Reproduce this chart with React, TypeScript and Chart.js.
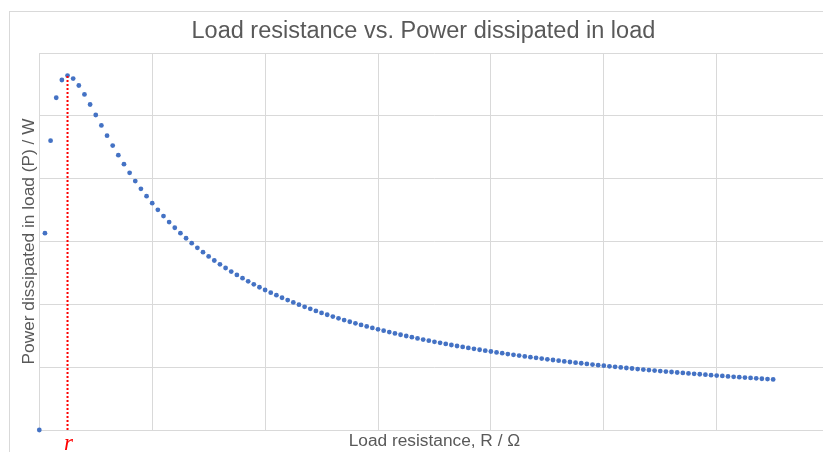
import React, { useEffect, useRef } from "react";
import { Chart, registerables } from "chart.js";

Chart.register(...registerables);

// Load resistance R (Ω)
const resistance: number[] = [
  0, 1, 2, 3, 4, 5, 6, 7, 8, 9, 10, 11, 12, 13, 14, 15, 16, 17, 18, 19, 20,
  21, 22, 23, 24, 25, 26, 27, 28, 29, 30, 31, 32, 33, 34, 35, 36, 37, 38, 39, 40,
  41, 42, 43, 44, 45, 46, 47, 48, 49, 50, 51, 52, 53, 54, 55, 56, 57, 58, 59, 60,
  61, 62, 63, 64, 65, 66, 67, 68, 69, 70, 71, 72, 73, 74, 75, 76, 77, 78, 79, 80,
  81, 82, 83, 84, 85, 86, 87, 88, 89, 90, 91, 92, 93, 94, 95, 96, 97, 98, 99, 100,
  101, 102, 103, 104, 105, 106, 107, 108, 109, 110, 111, 112, 113, 114, 115, 116, 117, 118, 119, 120,
  121, 122, 123, 124, 125, 126, 127, 128, 129, 130,
];

// Power dissipated in load P (W)
const power: number[] = [
  0, 3.133, 4.604, 5.288, 5.57, 5.64, 5.593, 5.483, 5.34, 5.18, 5.013,
  4.847, 4.684, 4.526, 4.374, 4.23, 4.093, 3.962, 3.838, 3.721, 3.61,
  3.504, 3.404, 3.309, 3.219, 3.133, 3.052, 2.974, 2.9, 2.83, 2.762,
  2.698, 2.637, 2.578, 2.522, 2.468, 2.416, 2.366, 2.318, 2.272, 2.228,
  2.186, 2.145, 2.105, 2.067, 2.03, 1.995, 1.961, 1.928, 1.895, 1.864,
  1.834, 1.805, 1.777, 1.75, 1.723, 1.698, 1.673, 1.648, 1.625, 1.602,
  1.58, 1.558, 1.537, 1.516, 1.496, 1.477, 1.458, 1.439, 1.421, 1.404,
  1.387, 1.37, 1.353, 1.337, 1.322, 1.307, 1.292, 1.277, 1.263, 1.249,
  1.235, 1.222, 1.209, 1.196, 1.184, 1.171, 1.159, 1.148, 1.136, 1.125,
  1.114, 1.103, 1.092, 1.082, 1.072, 1.062, 1.052, 1.042, 1.032, 1.023,
  1.014, 1.005, 0.996, 0.987, 0.979, 0.97, 0.962, 0.954, 0.946, 0.938,
  0.93, 0.923, 0.915, 0.908, 0.901, 0.894, 0.887, 0.88, 0.873, 0.866,
  0.86, 0.853, 0.847, 0.841, 0.834, 0.828, 0.822, 0.816, 0.81, 0.805,
];

// Internal resistance marker r and its maximum power
const internalR: number[] = [5, 5];
const internalP: number[] = [0, 5.64];
const markerLabel = "r";

const xRange: number[] = [0, 140, 20];
const yRange: number[] = [0, 6, 1];

const titleText = "Load resistance vs. Power dissipated in load";
const xTitle = "Load resistance, R / Ω";
const yTitle = "Power dissipated in load (P) / W";

const GRAY_TEXT = "#595959";
const GRID = "#d9d9d9";
const FONT = "'Liberation Sans', Arial, sans-serif";

export default function App() {
  const ref = useRef<HTMLCanvasElement | null>(null);

  useEffect(() => {
    const canvas = ref.current;
    if (!canvas) return;

    const rLabelPlugin = {
      id: "rLabel",
      afterDraw(chart: any) {
        const ctx = chart.ctx;
        const xs = chart.scales.x;
        const px = xs.getPixelForValue(internalR[0]);
        ctx.save();
        ctx.font = "italic 23px 'Liberation Serif', 'Times New Roman', serif";
        ctx.fillStyle = "#ff0000";
        ctx.textAlign = "center";
        ctx.textBaseline = "alphabetic";
        ctx.fillText(markerLabel, px + 1, 450);
        ctx.restore();
      },
    };

    const chart = new Chart(canvas, {
      type: "scatter",
      data: {
        datasets: [
          {
            label: "r",
            data: internalR.map((x, i) => ({ x, y: internalP[i] })),
            showLine: true,
            borderColor: "#ff0000",
            borderWidth: 2,
            borderDash: [2, 2],
            pointRadius: 0,
            order: 0,
          } as any,
          {
            label: "P",
            data: resistance.map((x, i) => ({ x, y: power[i] })),
            showLine: false,
            backgroundColor: "#4472c4",
            borderColor: "#4472c4",
            borderWidth: 0,
            pointRadius: 2.4,
            clip: false,
            order: 1,
          } as any,
        ],
      },
      options: {
        responsive: false,
        animation: false,
        events: [],
        layout: { padding: { left: 17.2, right: 20.4, top: 0, bottom: 0 } },
        plugins: {
          legend: { display: false },
          tooltip: { enabled: false },
          title: {
            display: true,
            text: titleText,
            color: GRAY_TEXT,
            font: { family: FONT, size: 23.5, weight: "normal" },
            padding: { top: 17.5, bottom: 7.3 },
          },
        },
        scales: {
          x: {
            type: "linear",
            min: xRange[0],
            max: xRange[1],
            ticks: { display: false, stepSize: xRange[2] },
            grid: { color: GRID, drawTicks: false, lineWidth: 1 },
            border: { display: true, color: GRID },
            title: {
              display: true,
              text: xTitle,
              color: GRAY_TEXT,
              font: { family: FONT, size: 17.3 },
              padding: { top: 0, bottom: 0 },
            },
            afterFit(scale: any) {
              scale.height = 22;
            },
          },
          y: {
            type: "linear",
            min: yRange[0],
            max: yRange[1],
            ticks: { display: false, stepSize: yRange[2] },
            grid: { color: GRID, drawTicks: false, lineWidth: 1 },
            border: { display: true, color: GRID },
            title: {
              display: true,
              text: yTitle,
              color: GRAY_TEXT,
              font: { family: FONT, size: 17.3 },
              padding: { top: 1.5, bottom: 0 },
            },
            afterFit(scale: any) {
              scale.width = 22.1;
            },
          },
        },
      },
      plugins: [rLabelPlugin],
    });

    return () => {
      chart.destroy();
    };
  }, []);

  return (
    <div
      style={{
        position: "fixed",
        left: 0,
        top: 0,
        width: 823,
        height: 452,
        overflow: "hidden",
        background: "#ffffff",
      }}
    >
      <div
        style={{
          position: "absolute",
          left: 9,
          top: 11,
          width: 828,
          height: 460,
          border: "1px solid #d9d9d9",
          boxSizing: "border-box",
        }}
      />
      <canvas
        ref={ref}
        width={850}
        height={452}
        style={{ position: "absolute", left: 0, top: 0, display: "block" }}
      />
    </div>
  );
}
